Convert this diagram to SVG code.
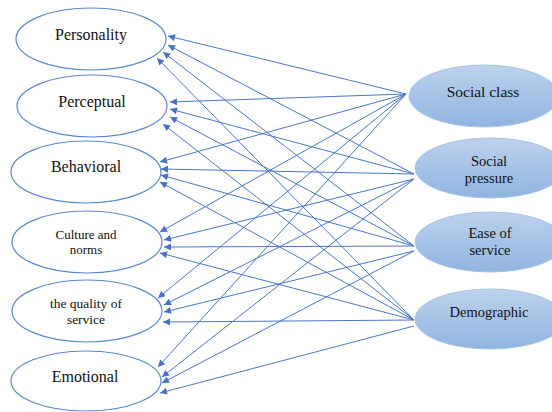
<svg xmlns="http://www.w3.org/2000/svg" width="552" height="412" viewBox="0 0 552 412">
<defs>
<linearGradient id="g" x1="0" y1="0" x2="0" y2="1">
<stop offset="0" stop-color="#bdd2ed"/>
<stop offset="1" stop-color="#90b4e0"/>
</linearGradient>
<marker id="a" viewBox="0 0 10 10" refX="10" refY="5" markerWidth="8" markerHeight="7" markerUnits="userSpaceOnUse" orient="auto">
<path d="M0,0 L10,5 L0,10 z" fill="#4472c4"/>
</marker>
<style>
.l{fill:#fff;stroke:#5b88cf;stroke-width:1.2}
.r{fill:url(#g);stroke:#a8c3e6;stroke-width:1}
text{font-family:'Liberation Serif','DejaVu Serif',serif;fill:#111;text-anchor:middle}
.c line{stroke:#4a76c7;stroke-width:1;marker-end:url(#a)}
</style>
</defs>
<rect width="552" height="412" fill="#fff"/>
<g id="personality"><ellipse class="l" cx="91" cy="39" rx="75" ry="31"/><text x="91" y="40" font-size="16">Personality</text></g>
<g id="perceptual"><ellipse class="l" cx="92" cy="106" rx="75" ry="31"/><text x="92" y="107" font-size="16">Perceptual</text></g>
<g id="behavioral"><ellipse class="l" cx="86" cy="172" rx="75" ry="31"/><text x="86" y="172" font-size="16">Behavioral</text></g>
<g id="culture"><ellipse class="l" cx="87" cy="242" rx="75" ry="31"/><text x="86" y="239" font-size="13">Culture and</text><text x="86" y="254" font-size="13">norms</text></g>
<g id="quality"><ellipse class="l" cx="87" cy="311" rx="75" ry="31"/><text x="86" y="308" font-size="13.5">the quality of</text><text x="86" y="324" font-size="13.5">service</text></g>
<g id="emotional"><ellipse class="l" cx="86" cy="381" rx="75" ry="30"/><text x="85" y="382" font-size="16">Emotional</text></g>
<g id="socialclass"><ellipse class="r" cx="484" cy="96" rx="75" ry="31"/><text x="483" y="97" font-size="15.5">Social class</text></g>
<g id="socialpressure"><ellipse class="r" cx="490" cy="168" rx="75" ry="30"/><text x="489" y="166" font-size="14.5">Social</text><text x="489" y="183" font-size="14.5">pressure</text></g>
<g id="ease"><ellipse class="r" cx="490" cy="242" rx="75" ry="30"/><text x="490" y="238" font-size="14.5">Ease of</text><text x="490" y="255" font-size="14.5">service</text></g>
<g id="demographic"><ellipse class="r" cx="490" cy="319" rx="75" ry="30"/><text x="489" y="317" font-size="14.5">Demographic</text></g>
<g id="connectors" class="c">
<line x1="406" y1="94" x2="168" y2="36"/>
<line x1="414" y1="174" x2="168" y2="45"/>
<line x1="414" y1="246" x2="163" y2="52"/>
<line x1="414" y1="320" x2="157" y2="58"/>
<line x1="406" y1="94" x2="170" y2="102"/>
<line x1="414" y1="174" x2="170" y2="109"/>
<line x1="414" y1="246" x2="170" y2="117"/>
<line x1="414" y1="320" x2="163" y2="124"/>
<line x1="406" y1="94" x2="160" y2="162"/>
<line x1="414" y1="174" x2="161" y2="169"/>
<line x1="414" y1="246" x2="161" y2="175"/>
<line x1="414" y1="320" x2="160" y2="182"/>
<line x1="406" y1="94" x2="160" y2="232"/>
<line x1="414" y1="179" x2="164" y2="240"/>
<line x1="414" y1="246" x2="164" y2="247"/>
<line x1="414" y1="320" x2="160" y2="253"/>
<line x1="406" y1="94" x2="158" y2="298"/>
<line x1="414" y1="179" x2="164" y2="305"/>
<line x1="414" y1="251" x2="164" y2="312"/>
<line x1="414" y1="320" x2="163" y2="322"/>
<line x1="406" y1="94" x2="158" y2="367"/>
<line x1="414" y1="179" x2="162" y2="377"/>
<line x1="414" y1="251" x2="162" y2="383"/>
<line x1="414" y1="326" x2="160" y2="393"/>
</g>
</svg>
